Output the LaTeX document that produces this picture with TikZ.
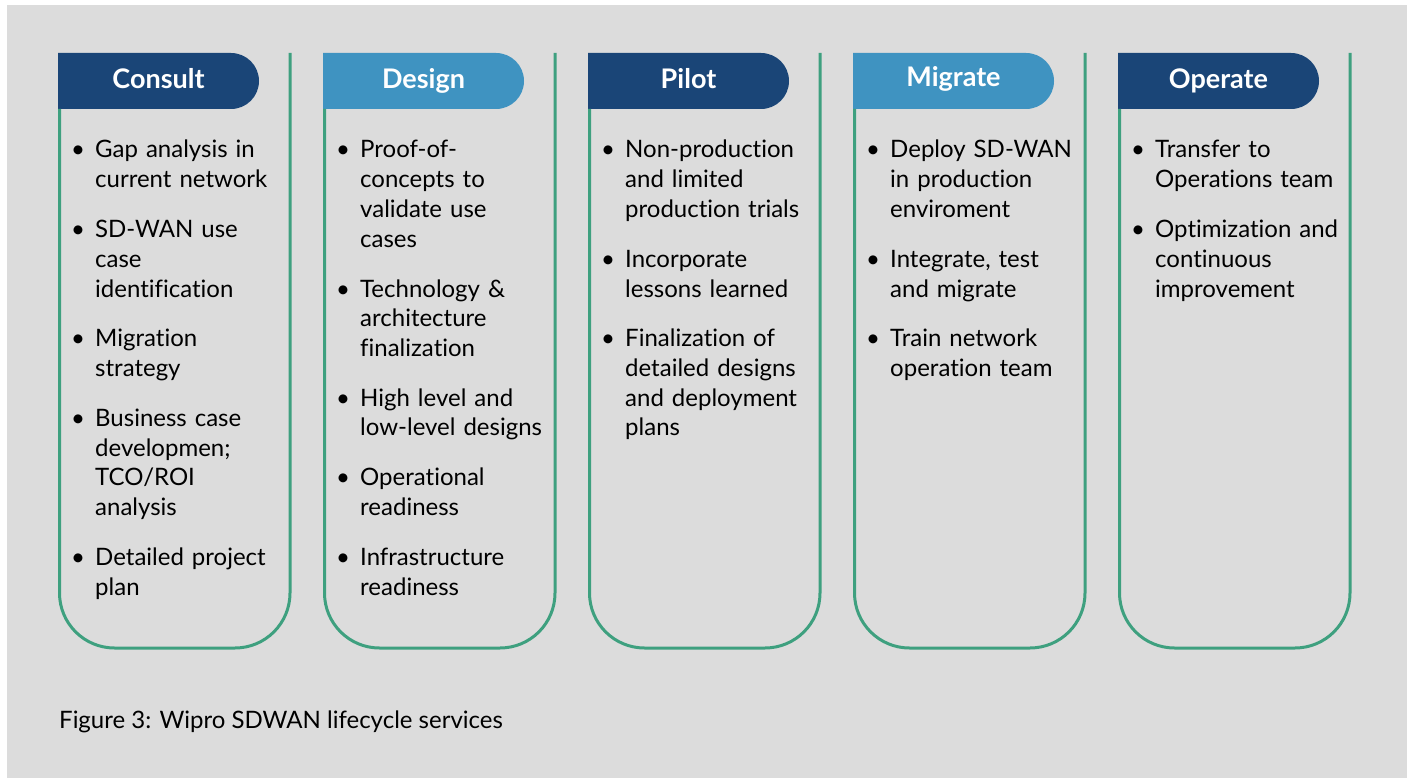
\documentclass[tikz,border=0pt]{standalone}
\usepackage{fontspec}
\setmainfont{Lato}[Ligatures=NoCommon]
\usetikzlibrary{positioning}
\definecolor{pagegray}{HTML}{DCDCDC}
\definecolor{tabdark}{HTML}{1A4577}
\definecolor{tablight}{HTML}{3F93C1}
\definecolor{lanegreen}{HTML}{3EA07F}
\tikzset{lane/.style={draw=lanegreen, line width=3pt, rounded corners=55pt},
  tabtext/.style={anchor=base, text=white, inner sep=0pt, font=\fontsize{27}{30}\selectfont\bfseries},
  itemlist/.style={anchor=base west, text width=240pt, align=left, inner sep=0pt,
    font=\fontsize{24}{29.75}\selectfont},
  figcaption/.style={anchor=base west, inner sep=0pt, font=\fontsize{24}{28}\selectfont}}
\newcommand{\bitem}{\noindent\leftskip=21pt\llap{\makebox[24pt][l]{\textbullet}}}
\newcommand{\lanetab}[1]{\fill[#1] (58,53) -- (231,53) arc[start angle=-90,end angle=90,radius=28] -- (58,109) -- cycle;}

\begin{document}
\begin{tikzpicture}[x=1pt,y=-1pt]
  \useasboundingbox (0,0) rectangle (1407,778);
  \fill[pagegray] (7,5) rectangle (1407,778);
  % consult
  \begin{scope}[xshift=0pt]
   \lanetab{tabdark}
   \draw[lane] (59.5,109) -- (59.5,648) -- (290,648) -- (290,53);
   \node[tabtext] (consult) at (158.5,89) {Consult};
   \node[itemlist] (consultlist) at (74,158) {\bitem Gap analysis in\\ current network\\[20pt]
     \bitem SD-WAN use\\ case\\ identification\\[20pt]
     \bitem Migration\\ strategy\\[20pt]
     \bitem Business case\\ developmen;\\ TCO/ROI\\ analysis\\[20pt]
     \bitem Detailed project\\ plan\par};
  \end{scope}
  % design
  \begin{scope}[xshift=265pt]
   \lanetab{tablight}
   \draw[lane] (59.5,109) -- (59.5,648) -- (290,648) -- (290,53);
   \node[tabtext] (design) at (158.5,89) {Design};
   \node[itemlist] (designlist) at (74,158) {\bitem Proof-of-\\ concepts to\\ validate use\\ cases\\[20pt]
     \bitem Technology \&\\ architecture\\ finalization\\[20pt]
     \bitem High level and\\ low-level designs\\[20pt]
     \bitem Operational\\ readiness\\[20pt]
     \bitem Infrastructure\\ readiness\par};
  \end{scope}
  % pilot
  \begin{scope}[xshift=530pt]
   \lanetab{tabdark}
   \draw[lane] (59.5,109) -- (59.5,648) -- (290,648) -- (290,53);
   \node[tabtext] (pilot) at (158.5,89) {Pilot};
   \node[itemlist] (pilotlist) at (74,158) {\bitem Non-production\\ and limited\\ production trials\\[20pt]
     \bitem Incorporate\\ lessons learned\\[20pt]
     \bitem Finalization of\\ detailed designs\\ and deployment\\ plans\par};
  \end{scope}
  % migrate
  \begin{scope}[xshift=795pt]
   \lanetab{tablight}
   \draw[lane] (59.5,109) -- (59.5,648) -- (290,648) -- (290,53);
   \node[tabtext] (migrate) at (158.5,87) {Migrate};
   \node[itemlist] (migratelist) at (74,158) {\bitem Deploy SD-WAN\\ in production\\ enviroment\\[20pt]
     \bitem Integrate, test\\ and migrate\\[20pt]
     \bitem Train network\\ operation team\par};
  \end{scope}
  % operate
  \begin{scope}[xshift=1060pt]
   \lanetab{tabdark}
   \draw[lane] (59.5,109) -- (59.5,648) -- (290,648) -- (290,53);
   \node[tabtext] (operate) at (158.5,89) {Operate};
   \node[itemlist] (operatelist) at (74,158) {\bitem Transfer to\\ Operations team\\[20pt]
     \bitem Optimization and\\ continuous\\ improvement\par};
  \end{scope}
  \node[figcaption] (caption) at (59,728) {Figure 3: Wipro SDWAN lifecycle services};
\end{tikzpicture}
\end{document}
